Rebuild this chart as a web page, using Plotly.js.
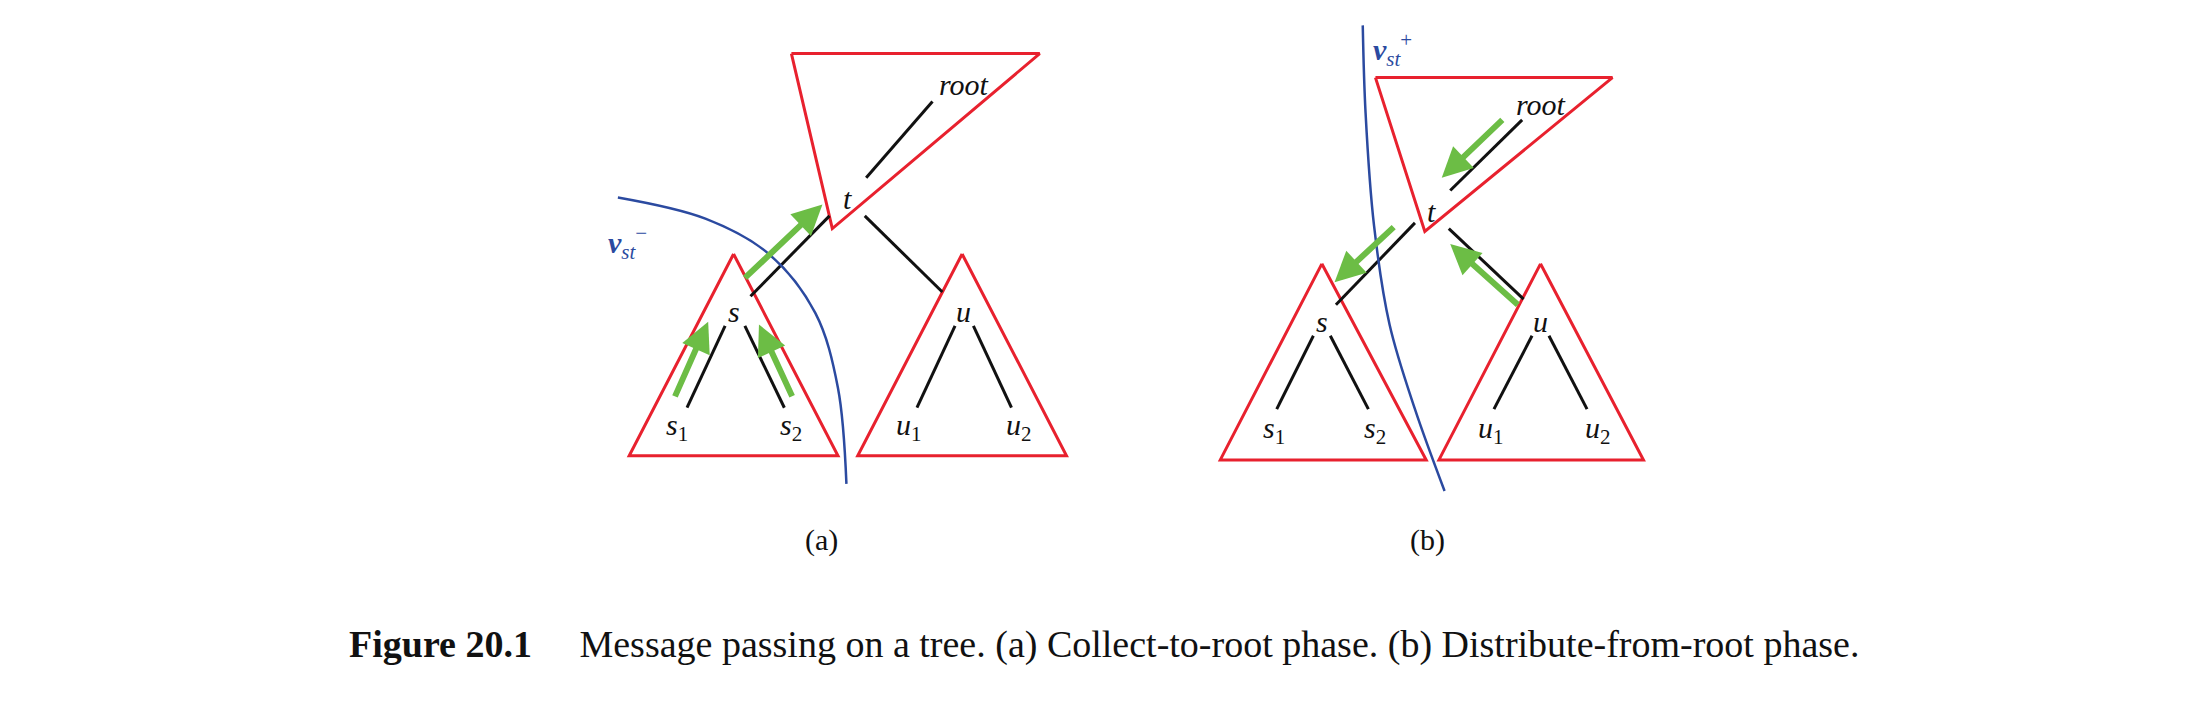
<!DOCTYPE html>
<html><head><meta charset="utf-8">
<script src="https://cdn.plot.ly/plotly-3.0.0.min.js"></script>
<style>body{margin:0;background:#fff}</style></head>
<body><div id="plot" style="width:2212px;height:704px"></div>
<script>
// coordinates in a 1568 x 499 drawing frame
var redTriangles = [
    [[561,38],[737,38],[590,162]],
    [[520,180],[446,323],[594,323]],
    [[682,180],[608,323],[756,323]],
    [[975,55],[1143,55],[1010,164]],
    [[937,187],[865,326],[1011,326]],
    [[1092,187],[1020,326],[1165,326]]
];
var edges = [
    [[661,72],[614,126]], [[588,153],[532,210]], [[613,153],[668,207]],
    [[514,231],[487,289]], [[528,231],[556,289]],
    [[677,231],[650,289]], [[690,231],[717,289]],
    [[1079,85],[1028,135]], [[1003,158],[947,216]], [[1027,162],[1080,212]],
    [[931,238],[905,290]], [[943,238],[970,290]],
    [[1086,238],[1059,290]], [[1098,238],[1125,290]]
];
var curveA = [[438,140],[500,155],[545,180],[578,222],[594,275],[600,343]];
var curveB = [[966,18],[968,80],[974,160],[985,230],[1003,290],[1024,348]];
var arrows = [
    [[527,198],[583,145]], [[478,282],[502,228]], [[562,282],[538,230]],
    [[1066,84],[1022,126]], [[989,160],[946,200]], [[1077,217],[1028,173]]
];
var nodeLabels = [
    ['<i>root</i>',683,60], ['<i>t</i>',601,141], ['<i>s</i>',520,221],
    ['<i>s</i><sub>1</sub>',480,303], ['<i>s</i><sub>2</sub>',561,303],
    ['<i>u</i>',683,221], ['<i>u</i><sub>1</sub>',644,303], ['<i>u</i><sub>2</sub>',722,303],
    ['<i>root</i>',1092,74], ['<i>t</i>',1015,150], ['<i>s</i>',937,228],
    ['<i>s</i><sub>1</sub>',903,305], ['<i>s</i><sub>2</sub>',975,305],
    ['<i>u</i>',1092,228], ['<i>u</i><sub>1</sub>',1057,305], ['<i>u</i><sub>2</sub>',1133,305],
    ['(a)',582,383], ['(b)',1012,383]
];
var curveLabels = [
    ['<b><i>v</i></b><sub><i>st</i></sub><sup>−</sup>',445,172],
    ['<b><i>v</i></b><sub><i>st</i></sub><sup>+</sup>',987,35]
];

var traces = [];
redTriangles.forEach(function(t){
    traces.push({x:[t[0][0],t[1][0],t[2][0],t[0][0]], y:[t[0][1],t[1][1],t[2][1],t[0][1]],
        mode:'lines', line:{color:'#e8212e', width:3}, hoverinfo:'skip'});
});
edges.forEach(function(e){
    traces.push({x:[e[0][0],e[1][0]], y:[e[0][1],e[1][1]], mode:'lines',
        line:{color:'#111', width:3}, hoverinfo:'skip'});
});
[curveA, curveB].forEach(function(c){
    traces.push({x:c.map(p=>p[0]), y:c.map(p=>p[1]), mode:'lines',
        line:{color:'#2b4aa0', width:2.5, shape:'spline'}, hoverinfo:'skip'});
});

var annotations = [];
arrows.forEach(function(a){
    annotations.push({x:a[1][0], y:a[1][1], ax:a[0][0], ay:a[0][1], axref:'x', ayref:'y',
        xref:'x', yref:'y', showarrow:true, arrowhead:2, arrowsize:1, arrowwidth:6,
        arrowcolor:'#6cbd45', text:''});
});
nodeLabels.forEach(function(l){
    annotations.push({x:l[1], y:l[2], text:l[0], showarrow:false,
        font:{family:'Liberation Serif', size:30, color:'#111'}});
});
curveLabels.forEach(function(l){
    annotations.push({x:l[1], y:l[2], text:l[0], showarrow:false,
        font:{family:'Liberation Serif', size:30, color:'#2b4aa0'}});
});
annotations.push({x:246, y:457, xanchor:'left', showarrow:false,
    text:'<b>Figure 20.1</b>     Message passing on a tree. (a) Collect-to-root phase. (b) Distribute-from-root phase.',
    font:{family:'Liberation Serif', size:38, color:'#111'}});

var layout = {
    margin:{l:0,r:0,t:0,b:0}, showlegend:false,
    paper_bgcolor:'#fff', plot_bgcolor:'#fff',
    xaxis:{range:[0,1568], visible:false, fixedrange:true},
    yaxis:{range:[499,0], visible:false, fixedrange:true},
    annotations:annotations
};
Plotly.newPlot('plot', traces, layout, {staticPlot:true});
</script></body></html>
